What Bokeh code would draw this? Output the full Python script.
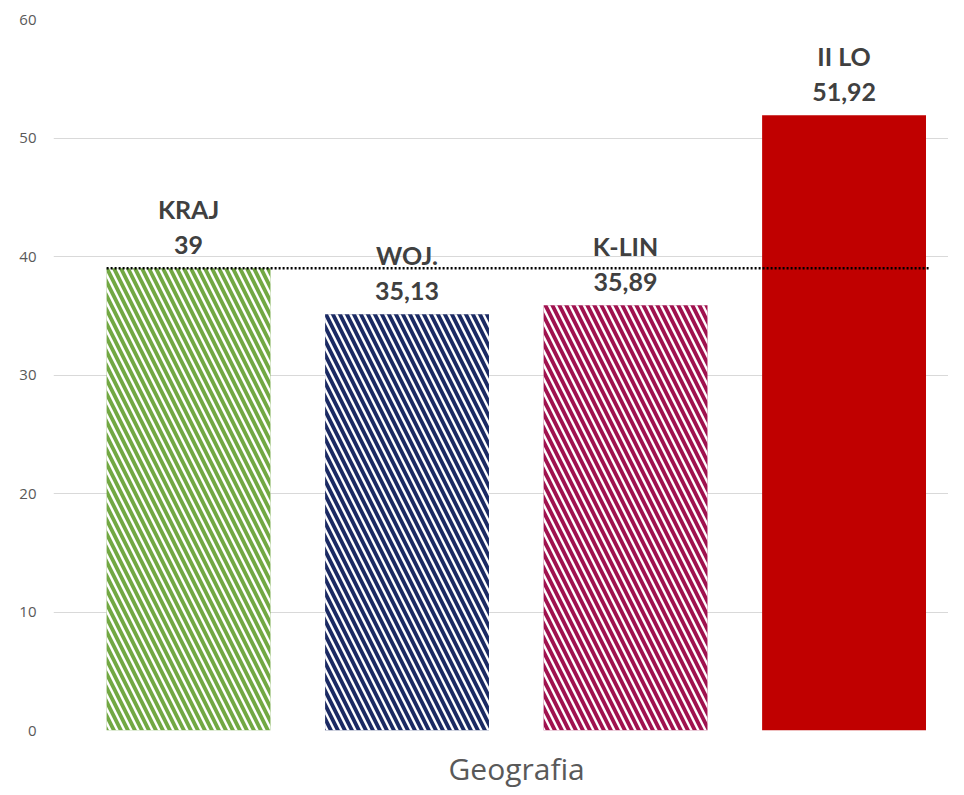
from bokeh.plotting import figure
from bokeh.models import Range1d, FixedTicker, ColumnDataSource, Title
from bokeh.core.properties import value
from bokeh.embed import file_html
from bokeh.resources import INLINE

categories = ["KRAJ", "WOJ.", "K-LIN", "II LO"]
values = [39, 35.13, 35.89, 51.92]
colors = ["#72A843", "#1B2A63", "#A0124F", "#C00000"]
hatched = [True, True, True, False]
reference = 39
y_ticks = [0, 10, 20, 30, 40, 50, 60]
title_text = "Geografia"

xs = list(range(len(categories)))
value_labels = [f"{v:g}".replace(".", ",") for v in values]

src = ColumnDataSource(dict(
    x=xs, top=values, color=colors,
    hatch=["\\" if h else " " for h in hatched],
    cat=categories, lab=value_labels,
))

p = figure(frame_width=895, frame_height=711, output_backend="svg", toolbar_location=None,
           x_range=Range1d(-0.618, 3.478), y_range=Range1d(0, 60),
           min_border_left=53, min_border_right=0, min_border_top=19, min_border_bottom=0)
p.outline_line_color = None
p.background_fill_color = "white"

p.vbar(x="x", top="top", width=0.75, source=src, fill_color="color", line_color=None,
       hatch_pattern="hatch", hatch_color="white", hatch_scale=14, hatch_weight=2.4)

p.text(x="x", y="top", text="lab", source=src, y_offset=-23, text_align="center",
       text_baseline="middle", text_font=value("Lato"), text_font_style="bold",
       text_font_size="25px", text_color="#404040")
p.text(x="x", y="top", text="cat", source=src, y_offset=-59, text_align="center",
       text_baseline="middle", text_font=value("Lato"), text_font_style="bold",
       text_font_size="25px", text_color="#404040")

p.line(x=[xs[0] - 0.375, xs[-1] + 0.39], y=[reference, reference], line_color="black",
       line_width=2.5, line_dash="2 2")

p.xgrid.visible = False
p.ygrid.grid_line_color = "#d9d9d9"
p.ygrid.grid_line_width = 1
p.yaxis.ticker = FixedTicker(ticks=y_ticks)
p.yaxis.axis_line_color = None
p.yaxis.major_tick_line_color = None
p.yaxis.minor_tick_line_color = None
p.yaxis.major_tick_out = 0
p.yaxis.major_label_standoff = 17
p.yaxis.major_label_text_color = "#595959"
p.yaxis.major_label_text_font = "Open Sans"
p.yaxis.major_label_text_font_size = "15px"

p.xaxis.visible = False

p.add_layout(Title(text=title_text, align="left", offset=395, standoff=30,
                   text_font="Open Sans", text_font_style="normal",
                   text_font_size="30px", text_color="#595959"), "below")

open("out.html", "w").write(file_html(p, INLINE))
